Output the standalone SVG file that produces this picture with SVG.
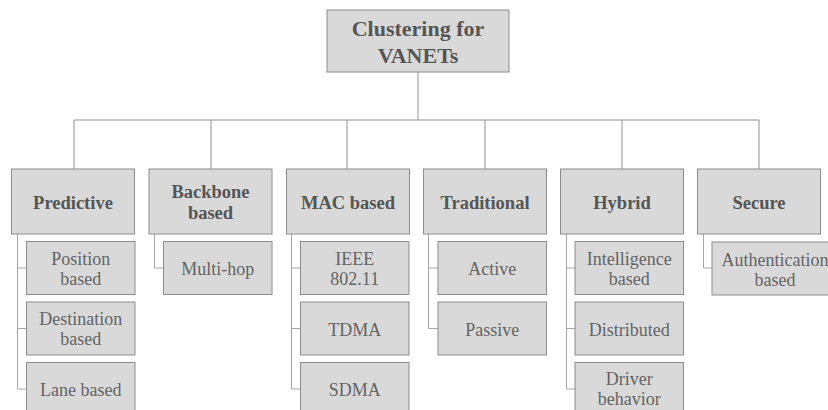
<svg xmlns="http://www.w3.org/2000/svg" width="828" height="410" viewBox="0 0 828 410">
<style>
.box{fill:#d9d9d9;stroke:#8c8c8c;stroke-width:1}
.ln{fill:none;stroke:#8f8f8f;stroke-width:1}
.ln2{fill:none;stroke:#a6a6a6;stroke-width:1}
text{font-family:'Liberation Serif','DejaVu Serif',serif;text-anchor:middle}
.rt{font-size:22px;font-weight:bold;fill:#555555}
.ct{font-size:18.5px;font-weight:bold;fill:#555555}
.ch{font-size:18px;fill:#646464}
</style>
<rect width="828" height="410" fill="#ffffff"/>
<g id="connectors">
<path class="ln" d="M418,72V120M74,120H759M74,120V169M211,120V169M347,120V169M485,120V169M622,120V169M759,120V169"/>
<path class="ln2" d="M17.5,234V389M17.5,268H26.5M17.5,328.5H26.5M17.5,389H26.5"/>
<path class="ln2" d="M154.5,234V268H163.5"/>
<path class="ln2" d="M291.5,234V389M291.5,268H300.5M291.5,328.5H300.5M291.5,389H300.5"/>
<path class="ln2" d="M428.5,234V328.5M428.5,268H438M428.5,328.5H438"/>
<path class="ln2" d="M566.5,234V389M566.5,268H575M566.5,328.5H575M566.5,389H575"/>
<path class="ln2" d="M703.5,234V268H712"/>
</g>
<g id="root"><rect class="box" x="327" y="10" width="182" height="62"/><text class="rt" x="418" y="36">Clustering for</text><text class="rt" x="418" y="63">VANETs</text></g>
<g id="predictive"><rect class="box" x="11.5" y="169" width="123" height="65"/><text class="ct" x="73" y="209">Predictive</text></g>
<g id="backbone"><rect class="box" x="149" y="169" width="123" height="65"/><text class="ct" x="210.5" y="197.5">Backbone</text><text class="ct" x="210.5" y="218.5">based</text></g>
<g id="mac"><rect class="box" x="286.5" y="169" width="123" height="65"/><text class="ct" x="348" y="209">MAC based</text></g>
<g id="traditional"><rect class="box" x="423.5" y="169" width="123" height="65"/><text class="ct" x="485" y="209">Traditional</text></g>
<g id="hybrid"><rect class="box" x="560.5" y="169" width="123" height="65"/><text class="ct" x="622" y="209">Hybrid</text></g>
<g id="secure"><rect class="box" x="697.5" y="169" width="123" height="65"/><text class="ct" x="759" y="209">Secure</text></g>
<g id="position"><rect class="box" x="26.5" y="241.5" width="108.5" height="53"/><text class="ch" x="80.75" y="265">Position</text><text class="ch" x="80.75" y="285">based</text></g>
<g id="destination"><rect class="box" x="26.5" y="302" width="108.5" height="53"/><text class="ch" x="80.75" y="324.5">Destination</text><text class="ch" x="80.75" y="344.5">based</text></g>
<g id="lane"><rect class="box" x="26.5" y="362.5" width="108.5" height="53"/><text class="ch" x="80.75" y="396">Lane based</text></g>
<g id="multihop"><rect class="box" x="163.5" y="241.5" width="108.5" height="53"/><text class="ch" x="217.75" y="275">Multi-hop</text></g>
<g id="ieee"><rect class="box" x="300.5" y="241.5" width="108.5" height="53"/><text class="ch" x="354.75" y="265">IEEE</text><text class="ch" x="354.75" y="285">802.11</text></g>
<g id="tdma"><rect class="box" x="300.5" y="302" width="108.5" height="53"/><text class="ch" x="354.75" y="335.5">TDMA</text></g>
<g id="sdma"><rect class="box" x="300.5" y="362.5" width="108.5" height="53"/><text class="ch" x="354.75" y="396">SDMA</text></g>
<g id="active"><rect class="box" x="438" y="241.5" width="108.5" height="53"/><text class="ch" x="492.25" y="275">Active</text></g>
<g id="passive"><rect class="box" x="438" y="302" width="108.5" height="53"/><text class="ch" x="492.25" y="335.5">Passive</text></g>
<g id="intelligence"><rect class="box" x="575" y="241.5" width="108.5" height="53"/><text class="ch" x="629.25" y="265">Intelligence</text><text class="ch" x="629.25" y="285">based</text></g>
<g id="distributed"><rect class="box" x="575" y="302" width="108.5" height="53"/><text class="ch" x="629.25" y="335.5">Distributed</text></g>
<g id="driver"><rect class="box" x="575" y="362.5" width="108.5" height="53"/><text class="ch" x="629.25" y="385">Driver</text><text class="ch" x="629.25" y="405">behavior</text></g>
<g id="authentication"><rect class="box" x="712" y="242" width="127" height="53"/><text class="ch" x="775" y="265.5">Authentication</text><text class="ch" x="775" y="285.5">based</text></g>
</svg>
